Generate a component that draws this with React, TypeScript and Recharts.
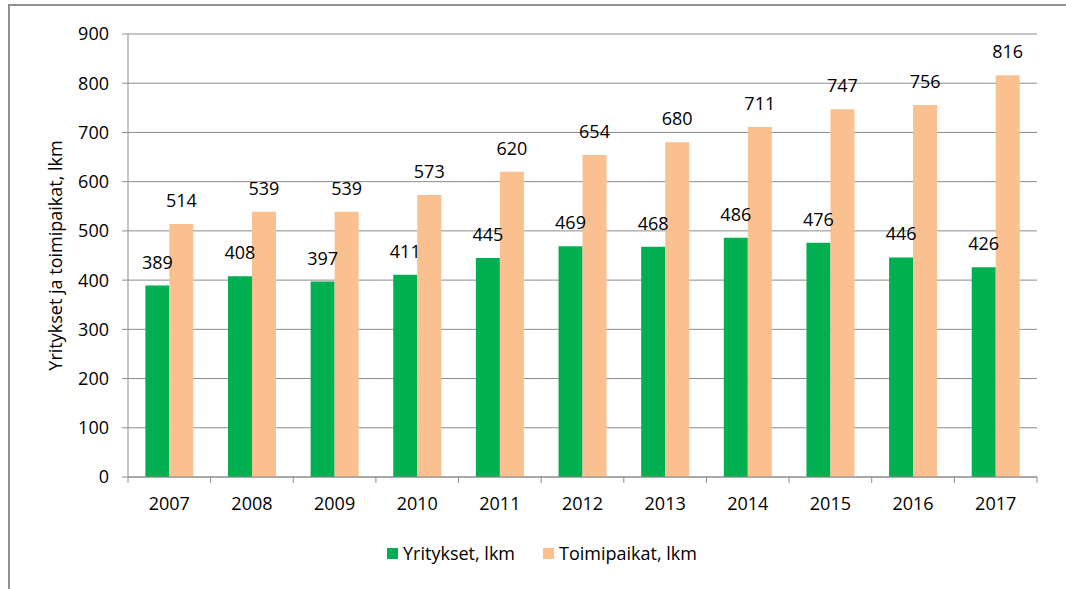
import React from 'react';
import { BarChart, Bar, XAxis, YAxis, CartesianGrid, Legend, LabelList } from 'recharts';

const years = ['2007', '2008', '2009', '2010', '2011', '2012', '2013', '2014', '2015', '2016', '2017'];
const yritykset = [389, 408, 397, 411, 445, 469, 468, 486, 476, 446, 426];
const toimipaikat = [514, 539, 539, 573, 620, 654, 680, 711, 747, 756, 816];
const yTicks = [0, 100, 200, 300, 400, 500, 600, 700, 800, 900];
const seriesNames = ['Yritykset, lkm', 'Toimipaikat, lkm'];

const data = years.map((year, i) => ({
  year,
  yritykset: yritykset[i],
  toimipaikat: toimipaikat[i],
}));

const W = 1066;
const H = 589;
const MARGIN = { top: 34, right: 29, bottom: 82, left: 0 };
const Y_AXIS_W = 128;
const PLOT_W = W - MARGIN.right - MARGIN.left - Y_AXIS_W;
const BAND = PLOT_W / years.length;
const FONT = '"Open Sans", "Noto Sans", sans-serif';
const AXIS_COLOR = '#8c8c8c';
const GREEN = '#00B050';
const ORANGE = '#FAC090';

const XTick = (props: any) => {
  const { x, y, payload, index } = props;
  const lineTop = y - 20;
  const lineBottom = y - 14;
  return (
    <g>
      <line x1={x - BAND / 2} x2={x - BAND / 2} y1={lineTop} y2={lineBottom} stroke={AXIS_COLOR} />
      {index === years.length - 1 && (
        <line x1={x + BAND / 2} x2={x + BAND / 2} y1={lineTop} y2={lineBottom} stroke={AXIS_COLOR} />
      )}
      <text x={x} y={y} dy="0.71em" textAnchor="middle" fill="#000" fontSize={18} fontFamily={FONT}>
        {payload.value}
      </text>
    </g>
  );
};

const LegendContent = (props: any) => {
  const payload = [...(props.payload || [])].sort(
    (a: any, b: any) => seriesNames.indexOf(a.value) - seriesNames.indexOf(b.value)
  );
  return (
    <div style={{ display: 'flex', justifyContent: 'center', alignItems: 'center', fontFamily: FONT, fontSize: 18, color: '#000', paddingLeft: 18 }}>
      {payload.map((p: any, i: number) => (
        <div key={i} style={{ display: 'flex', alignItems: 'center', marginRight: i === 0 ? 28 : 0 }}>
          <span style={{ display: 'inline-block', width: 11, height: 11, background: p.color, marginRight: 5 }} />
          <span>{p.value}</span>
        </div>
      ))}
    </div>
  );
};

const YLabel = (props: any) => {
  const vb = props.viewBox || { x: 0, y: 0, height: 0 };
  const cx = vb.x + 55;
  const cy = vb.y + vb.height / 2;
  return (
    <text x={cx} y={cy} transform={`rotate(-90 ${cx} ${cy})`} textAnchor="middle" dominantBaseline="central" fill="#000" fontSize={18} fontFamily={FONT}>
      Yritykset ja toimipaikat, lkm
    </text>
  );
};

export default function App() {
  return (
    <div style={{ position: 'fixed', left: 0, top: 0, width: W, height: H, overflow: 'hidden', background: '#fff' }}>
      <div style={{ position: 'absolute', left: 8, top: 4, width: W + 40, height: H + 40, border: '2px solid #8e8e8e', boxSizing: 'border-box' }} />
      <div style={{ position: 'absolute', left: 0, top: 0 }}>
        <BarChart width={W} height={H} data={data} margin={MARGIN} barCategoryGap="21%" barGap={0}>
          <CartesianGrid vertical={false} stroke={AXIS_COLOR} strokeWidth={1} />
          <XAxis
            dataKey="year"
            height={30}
            tickSize={6}
            tickMargin={14}
            tickLine={false}
            axisLine={{ stroke: AXIS_COLOR }}
            tick={<XTick />}
            interval={0}
          />
          <YAxis
            width={Y_AXIS_W}
            domain={[0, 900]}
            ticks={yTicks}
            interval={0}
            tickSize={6}
            tickMargin={13}
            axisLine={{ stroke: AXIS_COLOR }}
            tickLine={{ stroke: AXIS_COLOR }}
            tick={{ fill: '#000', fontSize: 18, fontFamily: FONT }}
            label={<YLabel />}
          />
          <Legend
            verticalAlign="middle"
            align="center"
            layout="horizontal"
            wrapperStyle={{ top: 541, left: 0, width: W }}
            content={<LegendContent />}
          />
          <Bar dataKey="yritykset" name="Yritykset, lkm" fill={GREEN} isAnimationActive={false}>
            <LabelList dataKey="yritykset" position="top" offset={17} fill="#000" fontSize={18} fontFamily={FONT} />
          </Bar>
          <Bar dataKey="toimipaikat" name="Toimipaikat, lkm" fill={ORANGE} isAnimationActive={false}>
            <LabelList dataKey="toimipaikat" position="top" offset={17} fill="#000" fontSize={18} fontFamily={FONT} />
          </Bar>
        </BarChart>
      </div>
    </div>
  );
}
